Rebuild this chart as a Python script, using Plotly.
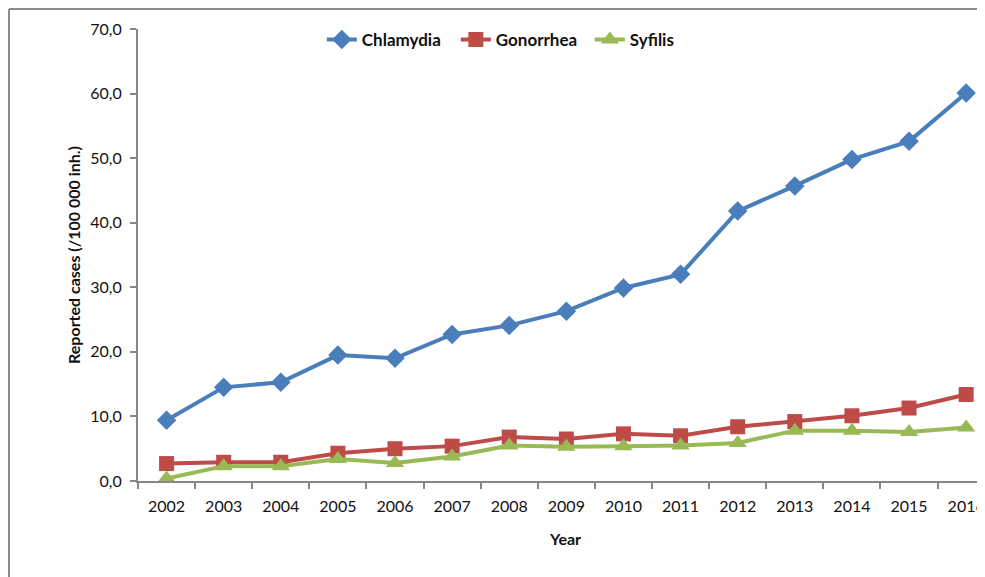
import plotly.graph_objects as go

# Reported STI cases per 100 000 inhabitants
years = [str(y) for y in range(2002, 2017)]
chlamydia = [9.4, 14.5, 15.3, 19.5, 19.0, 22.7, 24.1, 26.3, 29.9, 32.0, 41.8, 45.7, 49.8, 52.6, 60.1]
gonorrhea = [2.7, 2.9, 2.9, 4.3, 5.0, 5.4, 6.8, 6.5, 7.3, 7.0, 8.4, 9.2, 10.1, 11.3, 13.4]
syfilis = [0.4, 2.3, 2.3, 3.4, 2.8, 3.8, 5.5, 5.3, 5.4, 5.5, 5.9, 7.8, 7.8, 7.6, 8.3]

FONT = "Lato, 'Open Sans', sans-serif"
AXIS_COL = "#868686"
TXT = "#111111"

fig = go.Figure()
fig.add_trace(go.Scatter(x=years, y=chlamydia, name="<b>Chlamydia</b>", mode="lines+markers",
                         line=dict(color="#4a7ebb", width=4),
                         marker=dict(symbol="diamond", size=15, color="#4a7ebb")))
fig.add_trace(go.Scatter(x=years, y=gonorrhea, name="<b>Gonorrhea</b>", mode="lines+markers",
                         line=dict(color="#be4b48", width=4),
                         marker=dict(symbol="square", size=15, color="#be4b48")))
fig.add_trace(go.Scatter(x=years, y=syfilis, name="<b>Syfilis</b>", mode="lines+markers",
                         line=dict(color="#98b954", width=4),
                         marker=dict(symbol="triangle-up", size=16, color="#98b954")))

fig.update_xaxes(type="category", range=[-0.5, 14.47], showgrid=False,
                 showline=True, linecolor=AXIS_COL, linewidth=2,
                 ticks="outside", tickson="boundaries", ticklen=6, tickwidth=2, tickcolor=AXIS_COL,
                 ticklabelstandoff=10,
                 tickfont=dict(size=16, color=TXT),
                 title=dict(text="<b>Year</b>", font=dict(size=16, color=TXT), standoff=20))
fig.update_yaxes(range=[0, 70], dtick=10, tickformat=".1f", showgrid=False, zeroline=False,
                 showline=True, linecolor=AXIS_COL, linewidth=2,
                 ticks="outside", ticklen=6, tickwidth=2, tickcolor=AXIS_COL,
                 ticklabelstandoff=5,
                 tickfont=dict(size=16, color=TXT),
                 title=dict(text="<b>Reported cases (/100 000 inh.)</b>",
                            font=dict(size=16, color=TXT), standoff=6))

# outer chart frame (left and top edges visible)
fig.add_shape(type="line", xref="paper", yref="paper", x0=-0.1509, x1=-0.1509, y0=1.0442, y1=-0.3,
              line=dict(color="#8c8c8c", width=2))
fig.add_shape(type="line", xref="paper", yref="paper", x0=-0.1509, x1=1.05, y0=1.0442, y1=1.0442,
              line=dict(color="#8c8c8c", width=2))

fig.update_layout(
    width=985, height=577,
    margin=dict(l=130, r=0, t=21, b=104),
    paper_bgcolor="white", plot_bgcolor="white",
    separators=", ",
    font=dict(family=FONT),
    showlegend=True,
    legend=dict(orientation="h", x=0.215, y=0.976, xanchor="left", yanchor="middle",
                font=dict(size=17, color=TXT, family=FONT), bgcolor="rgba(0,0,0,0)",
                entrywidth=89, entrywidthmode="pixels"),
)

fig.write_html("out.html")
